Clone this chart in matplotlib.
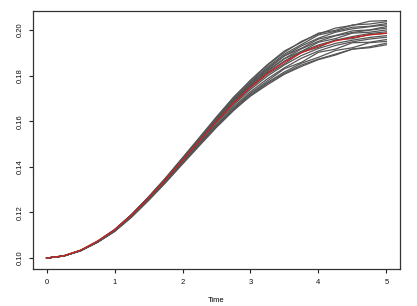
import numpy as np
import matplotlib
matplotlib.use("Agg")
import matplotlib.pyplot as plt

# time grid of the simulated runs
time = [0.0, 0.25, 0.5, 0.75, 1.0, 1.25, 1.5, 1.75, 2.0, 2.25, 2.5,
        2.75, 3.0, 3.25, 3.5, 3.75, 4.0, 4.25, 4.5, 4.75, 5.0]

# mean trajectory (red)
mean_run = [0.1000, 0.1010, 0.1035, 0.1075, 0.1125, 0.1190, 0.1265, 0.1345,
            0.1430, 0.1515, 0.1600, 0.1680, 0.1750, 0.1810, 0.1860, 0.1900,
            0.1930, 0.1952, 0.1967, 0.1978, 0.1986]

# individual stochastic runs (gray)
runs = [
    [0.1000, 0.1009, 0.1033, 0.1073, 0.1124, 0.1191, 0.1268, 0.1351, 0.1440, 0.1529, 0.1619,
     0.1705, 0.1778, 0.1846, 0.1902, 0.1950, 0.1982, 0.2008, 0.2020, 0.2038, 0.2041],
    [0.1000, 0.1009, 0.1033, 0.1072, 0.1123, 0.1190, 0.1267, 0.1349, 0.1437, 0.1526, 0.1616,
     0.1702, 0.1780, 0.1848, 0.1908, 0.1946, 0.1986, 0.1998, 0.2022, 0.2026, 0.2036],
    [0.1000, 0.1009, 0.1032, 0.1071, 0.1122, 0.1189, 0.1266, 0.1348, 0.1435, 0.1523, 0.1612,
     0.1697, 0.1772, 0.1838, 0.1894, 0.1936, 0.1978, 0.1994, 0.2012, 0.2016, 0.2028],
    [0.1000, 0.1009, 0.1033, 0.1073, 0.1124, 0.1190, 0.1266, 0.1347, 0.1434, 0.1521, 0.1610,
     0.1694, 0.1768, 0.1832, 0.1887, 0.1930, 0.1964, 0.1990, 0.2005, 0.2014, 0.2022],
    [0.1000, 0.1009, 0.1032, 0.1071, 0.1121, 0.1187, 0.1264, 0.1346, 0.1433, 0.1520, 0.1607,
     0.1690, 0.1764, 0.1828, 0.1886, 0.1920, 0.1960, 0.1976, 0.1996, 0.2000, 0.2015],
    [0.1000, 0.1009, 0.1033, 0.1072, 0.1122, 0.1188, 0.1264, 0.1345, 0.1431, 0.1518, 0.1605,
     0.1687, 0.1760, 0.1823, 0.1875, 0.1917, 0.1950, 0.1974, 0.1989, 0.1999, 0.2008],
    [0.1000, 0.1009, 0.1032, 0.1070, 0.1120, 0.1186, 0.1263, 0.1345, 0.1432, 0.1518, 0.1603,
     0.1684, 0.1756, 0.1818, 0.1874, 0.1906, 0.1946, 0.1962, 0.1986, 0.1990, 0.2000],
    [0.1000, 0.1009, 0.1033, 0.1072, 0.1121, 0.1187, 0.1263, 0.1344, 0.1429, 0.1515, 0.1601,
     0.1682, 0.1752, 0.1813, 0.1864, 0.1905, 0.1934, 0.1955, 0.1971, 0.1984, 0.1992],
    [0.1000, 0.1009, 0.1032, 0.1070, 0.1119, 0.1184, 0.1260, 0.1341, 0.1427, 0.1513, 0.1598,
     0.1677, 0.1746, 0.1806, 0.1852, 0.1902, 0.1924, 0.1956, 0.1962, 0.1980, 0.1985],
    [0.1000, 0.1009, 0.1033, 0.1071, 0.1120, 0.1185, 0.1260, 0.1340, 0.1425, 0.1509, 0.1593,
     0.1671, 0.1739, 0.1798, 0.1847, 0.1888, 0.1919, 0.1941, 0.1955, 0.1967, 0.1975],
    [0.1000, 0.1009, 0.1032, 0.1070, 0.1118, 0.1182, 0.1257, 0.1337, 0.1421, 0.1504, 0.1586,
     0.1663, 0.1729, 0.1786, 0.1834, 0.1876, 0.1908, 0.1932, 0.1948, 0.1960, 0.1968],
    [0.1000, 0.1009, 0.1033, 0.1071, 0.1119, 0.1183, 0.1257, 0.1336, 0.1419, 0.1501, 0.1582,
     0.1657, 0.1722, 0.1777, 0.1830, 0.1858, 0.1902, 0.1916, 0.1944, 0.1946, 0.1958],
    [0.1000, 0.1009, 0.1032, 0.1069, 0.1117, 0.1180, 0.1254, 0.1333, 0.1416, 0.1498, 0.1578,
     0.1652, 0.1718, 0.1770, 0.1816, 0.1854, 0.1880, 0.1910, 0.1922, 0.1944, 0.1950],
    [0.1000, 0.1009, 0.1032, 0.1069, 0.1116, 0.1179, 0.1252, 0.1330, 0.1412, 0.1493, 0.1573,
     0.1646, 0.1712, 0.1766, 0.1810, 0.1846, 0.1872, 0.1894, 0.1916, 0.1926, 0.1942],
    [0.1000, 0.1009, 0.1033, 0.1071, 0.1119, 0.1182, 0.1255, 0.1333, 0.1415, 0.1496, 0.1576,
     0.1650, 0.1710, 0.1760, 0.1806, 0.1840, 0.1870, 0.1890, 0.1916, 0.1922, 0.1935],
]

x_ticks = [0, 1, 2, 3, 4, 5]
y_ticks = [0.10, 0.12, 0.14, 0.16, 0.18, 0.20]
y_tick_labels = ["0.10", "0.12", "0.14", "0.16", "0.18", "0.20"]

plt.rcParams['font.family'] = ['Liberation Sans', 'DejaVu Sans']

fig = plt.figure(figsize=(4.17, 3.06), dpi=100)
ax = fig.add_axes((0.0791, 0.1209, 0.8801, 0.8431))

for run in runs:
    ax.plot(time, run, color='#555555', lw=0.9)
ax.plot(time, mean_run, color='#cc2020', lw=0.9)

ax.set_xlim(-0.2, 5.2)
ax.set_ylim(0.0952, 0.2083)
ax.set_xticks(x_ticks)
ax.set_xticklabels([str(v) for v in x_ticks])
ax.set_yticks(y_ticks)
ax.set_yticklabels(y_tick_labels, rotation=90, va='center')
ax.tick_params(direction='out', length=3, width=0.8, labelsize=5.5, pad=4,
               color='#222222', labelcolor='#111111')
ax.set_xlabel('Time', fontsize=5.5, labelpad=8)
for s in ax.spines.values():
    s.set_linewidth(0.9)
    s.set_color('#333333')

fig.savefig('out.png', dpi=100)
